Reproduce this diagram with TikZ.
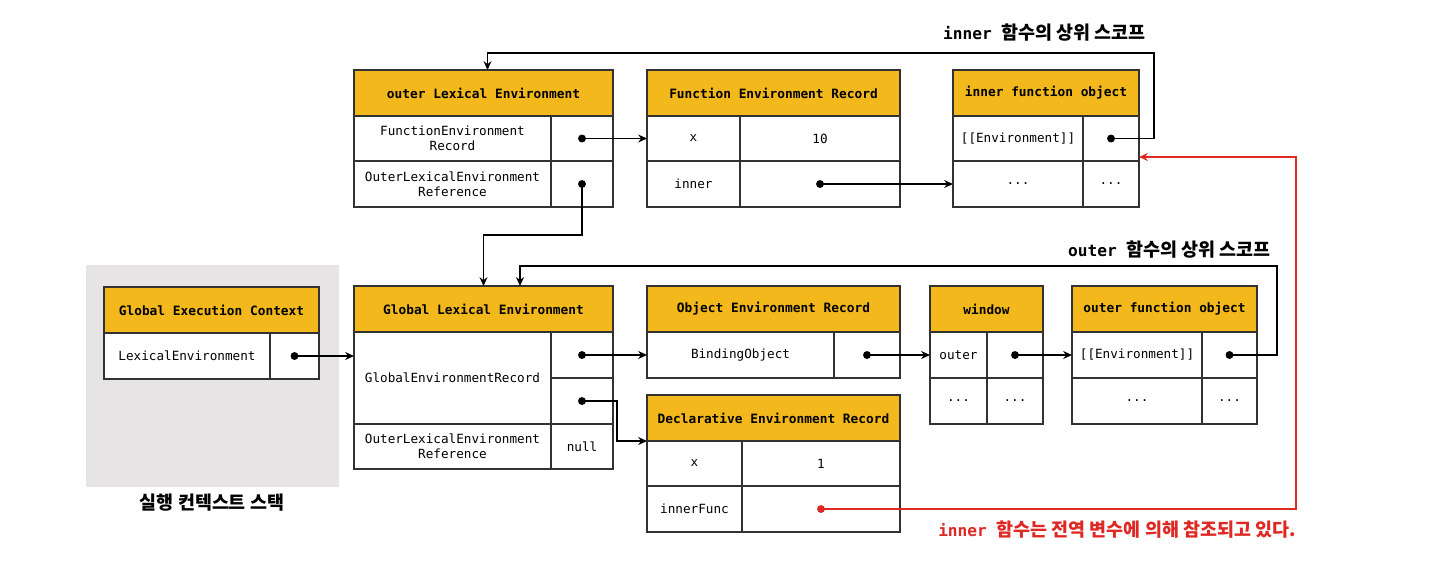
\documentclass[tikz,border=0pt]{standalone}
\usepackage{fontspec}
\setmonofont{DejaVu Sans Mono}
\newfontfamily\kofont{Noto Sans CJK KR}
\usetikzlibrary{arrows.meta, positioning}

\definecolor{envyellow}{RGB}{242,184,28}
\definecolor{stackgray}{RGB}{230,228,228}
\definecolor{boxline}{RGB}{50,50,50}
\definecolor{refred}{RGB}{222,40,36}

\newcommand{\kotext}[1]{{\kofont\fontsize{10.5}{12}\selectfont #1}}

\begin{document}
\begin{tikzpicture}[
    x=0.02cm, y=-0.02cm,
    hdr/.style={draw=boxline, fill=envyellow, line width=0.7pt, anchor=north west, inner sep=0pt, outer sep=0pt, minimum width=#1*0.02cm, minimum height=46*0.02cm, font=\ttfamily\bfseries\fontsize{7.3}{9}\selectfont},
    cell/.style 2 args={draw=boxline, fill=white, line width=0.7pt, anchor=north west, inner sep=0pt, outer sep=0pt, align=center, minimum width=#1*0.02cm, minimum height=#2*0.02cm, font=\ttfamily\fontsize{7.2}{8.6}\selectfont},
    dot/.style={circle, fill=black, inner sep=0pt, minimum size=4.5pt},
    ref/.style={-{Stealth[length=5pt,width=4.5pt]}, line width=1pt},
    scopelbl/.style={anchor=east, font=\bfseries\fontsize{9.2}{11}\selectfont}
]
    \useasboundingbox (0,0) rectangle (1440,562);

    % execution context stack
    \fill[stackgray] (86,265) rectangle (339,487);
    \node[font=\bfseries] (stacklbl) at (212,503) {\kotext{실행 컨텍스트 스택}};

    % Global Execution Context
    \node[hdr=215] (gechd) at (104,287) {Global Execution Context};
    \node[cell={166}{46}] (geck1) at (gechd.south west) {LexicalEnvironment};
    \node[cell={49}{46}] (gecv1) at (geck1.north east) {};

    % Global Lexical Environment
    \node[hdr=259] (glehd) at (354,286) {Global Lexical Environment};
    \node[cell={197}{92}] (glek1) at (glehd.south west) {GlobalEnvironmentRecord};
    \node[cell={62}{46}] (glev1) at (glek1.north east) {};
    \node[cell={62}{46}] (glev2) at (glev1.south west) {};
    \node[cell={197}{45}] (glek2) at (glek1.south west) {OuterLexicalEnvironment\\Reference};
    \node[cell={62}{45}] (glev3) at (glek2.north east) {null};

    % Object Environment Record
    \node[hdr=253] (oerhd) at (647,286) {Object Environment Record};
    \node[cell={187}{46}] (oerk1) at (oerhd.south west) {BindingObject};
    \node[cell={66}{46}] (oerv1) at (oerk1.north east) {};

    % window
    \node[hdr=113] (winhd) at (930,286) {window};
    \node[cell={57}{46}] (wink1) at (winhd.south west) {outer};
    \node[cell={56}{46}] (winv1) at (wink1.north east) {};
    \node[cell={57}{46}] (wink2) at (wink1.south west) {...};
    \node[cell={56}{46}] (winv2) at (wink2.north east) {...};

    % outer function object
    \node[hdr=185] (ofohd) at (1072,286) {outer function object};
    \node[cell={130}{46}] (ofok1) at (ofohd.south west) {[[Environment]]};
    \node[cell={55}{46}] (ofov1) at (ofok1.north east) {};
    \node[cell={130}{46}] (ofok2) at (ofok1.south west) {...};
    \node[cell={55}{46}] (ofov2) at (ofok2.north east) {...};

    % Declarative Environment Record
    \node[hdr=253] (derhd) at (647,395) {Declarative Environment Record};
    \node[cell={95}{45}] (derk1) at (derhd.south west) {x};
    \node[cell={158}{45}] (derv1) at (derk1.north east) {1};
    \node[cell={95}{46}] (derk2) at (derk1.south west) {innerFunc};
    \node[cell={158}{46}] (derv2) at (derk2.north east) {};

    % outer Lexical Environment
    \node[hdr=259] (olehd) at (354,70) {outer Lexical Environment};
    \node[cell={197}{45}] (olek1) at (olehd.south west) {FunctionEnvironment\\Record};
    \node[cell={62}{45}] (olev1) at (olek1.north east) {};
    \node[cell={197}{46}] (olek2) at (olek1.south west) {OuterLexicalEnvironment\\Reference};
    \node[cell={62}{46}] (olev2) at (olek2.north east) {};

    % Function Environment Record
    \node[hdr=253] (ferhd) at (647,70) {Function Environment Record};
    \node[cell={93}{45}] (ferk1) at (ferhd.south west) {x};
    \node[cell={160}{45}] (ferv1) at (ferk1.north east) {10};
    \node[cell={93}{46}] (ferk2) at (ferk1.south west) {inner};
    \node[cell={160}{46}] (ferv2) at (ferk2.north east) {};

    % inner function object
    \node[hdr=186] (ifohd) at (953,70) {inner function object};
    \node[cell={130}{45}] (ifok1) at (ifohd.south west) {[[Environment]]};
    \node[cell={56}{45}] (ifov1) at (ifok1.north east) {};
    \node[cell={130}{46}] (ifok2) at (ifok1.south west) {...};
    \node[cell={56}{46}] (ifov2) at (ifok2.north east) {...};

    % Dots
    \node[dot] (dgec) at (gecv1) {};
    \node[dot] (dgle1) at (glev1) {};
    \node[dot] (dgle2) at (glev2) {};
    \node[dot] (doer) at (oerv1) {};
    \node[dot] (dwin) at (winv1) {};
    \node[dot] (dofo) at (ofov1) {};
    \node[dot] (dole1) at (olev1) {};
    \node[dot] (dole2) at (olev2) {};
    \node[dot] (dfer) at (ferv2) {};
    \node[dot] (difo) at (ifov1) {};
    \node[dot, fill=refred] (dder) at (derv2) {};

    % Arrows
    \draw[ref] (dgec.center) -- (dgec.center -| glek1.west);
    \draw[ref] (dgle1.center) -- (dgle1.center -| oerk1.west);
    \draw[ref] (dgle2.center) -- ++(35,0) |- (derhd.south west);
    \draw[ref] (doer.center) -- (doer.center -| wink1.west);
    \draw[ref] (dwin.center) -- (dwin.center -| ofok1.west);
    \draw[ref] (dofo.center) -| (1277,266) -| ([xshift=0.73cm]glehd.north);
    \draw[ref] (dole1.center) -- (dole1.center -| ferk1.west);
    \draw[ref] (dole2.center) -- ++(0,51) -| (glehd.north);
    \draw[ref] (dfer.center) -- (dfer.center -| ifok2.west);
    \draw[ref] (difo.center) -| (1154,53) -| ([xshift=0.08cm]olehd.north);
    \draw[ref, refred] (dder.center) -| ([xshift=3.14cm,yshift=0.08cm]ifov1.south east) -- ([yshift=0.08cm]ifov1.south east);

    % Scope labels
    \node[scopelbl] (innerlbl) at (1152,33) {\ttfamily inner \kotext{함수의 상위 스코프}};
    \node[scopelbl] (outerlbl) at (1277,250) {\ttfamily outer \kotext{함수의 상위 스코프}};
    \node[scopelbl, text=refred] (reflbl) at (1302,530) {\ttfamily inner \kotext{함수는 전역 변수에 의해 참조되고 있다.}};

\end{tikzpicture}
\end{document}
